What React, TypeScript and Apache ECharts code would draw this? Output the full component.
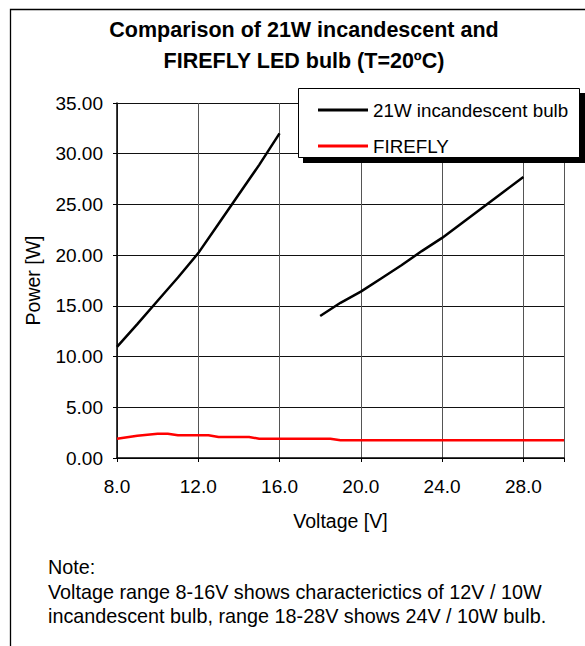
import React, { useEffect, useRef } from "react";
import * as echarts from "echarts";

const titleLines = ["Comparison of 21W incandescent and", "FIREFLY LED bulb (T=20ºC)"];
const noteLines = [
  "Note:",
  "Voltage range 8-16V shows characterictics of 12V / 10W",
  "incandescent bulb, range 18-28V shows 24V / 10W bulb.",
];
const seriesNames = ["21W incandescent bulb", "FIREFLY"];

// Voltage [V], Power [W]; null breaks the line between the two bulbs
const incVoltage = [8, 9, 10, 11, 12, 13, 14, 15, 16, 17, 18, 19, 20, 21, 22, 23, 24, 25, 26, 27, 28];
const incPower: (number | null)[] = [
  10.95, 13.2, 15.5, 17.8, 20.2, 23.1, 26.0, 28.9, 32.0, null, 14.0, 15.3, 16.4, 17.7, 19.0, 20.4, 21.7,
  23.2, 24.7, 26.2, 27.7,
];

const ledVoltage = [8, 9, 10, 10.5, 11, 12, 12.5, 13, 14, 14.5, 15, 16, 17, 18, 18.5, 19, 20, 22, 24, 26, 28, 30];
const ledPower = [
  1.9, 2.2, 2.38, 2.38, 2.24, 2.24, 2.24, 2.07, 2.07, 2.07, 1.9, 1.9, 1.9, 1.9, 1.9, 1.74, 1.74, 1.74, 1.74,
  1.74, 1.74, 1.74,
];

const FONT = "'Liberation Sans', Arial, Helvetica, sans-serif";

export default function App() {
  const ref = useRef<HTMLDivElement>(null);
  useEffect(() => {
    if (!ref.current) return;
    const chart = echarts.init(ref.current, undefined, { renderer: "svg" });
    const incData = incVoltage.map((v, i) => [v, incPower[i]]);
    const ledData = ledVoltage.map((v, i) => [v, ledPower[i]]);
    chart.setOption({
      animation: false,
      backgroundColor: "#ffffff",
      textStyle: { fontFamily: FONT },
      grid: { left: 117, top: 103, right: 21, bottom: 188, containLabel: false },
      xAxis: {
        type: "value",
        min: 8,
        max: 30,
        interval: 4,
        name: "Voltage [V]",
        nameLocation: "middle",
        nameGap: 53,
        nameTextStyle: { fontSize: 19.5, color: "#000", fontFamily: FONT },
        axisLine: { show: true, lineStyle: { color: "#000", width: 1.5 } },
        axisTick: { show: true, length: 4, lineStyle: { color: "#000" } },
        axisLabel: {
          fontSize: 19,
          color: "#000",
          margin: 19,
          fontFamily: FONT,
          formatter: (v: number) => (v === 30 ? "" : v.toFixed(1)),
        },
        splitLine: { show: true, lineStyle: { color: "#555", width: 1 } },
      },
      yAxis: {
        type: "value",
        min: 0,
        max: 35,
        interval: 5,
        name: "Power [W]",
        nameLocation: "middle",
        nameGap: 74,
        nameTextStyle: { fontSize: 19.5, color: "#000", fontFamily: FONT },
        axisLine: { show: true, lineStyle: { color: "#000", width: 1.5 } },
        axisTick: { show: true, length: 4, lineStyle: { color: "#000" } },
        axisLabel: {
          fontSize: 19,
          color: "#000",
          margin: 14,
          fontFamily: FONT,
          formatter: (v: number) => v.toFixed(2),
        },
        splitLine: { show: true, lineStyle: { color: "#111", width: 1 } },
      },
      legend: {
        orient: "vertical",
        left: 313,
        top: 95,
        z: 110,
        itemWidth: 50,
        itemHeight: 3,
        itemGap: 16,
        icon: "rect",
        textStyle: { fontSize: 18.8, color: "#000", fontFamily: FONT, lineHeight: 20 },
        data: seriesNames,
      },
      graphic: [
        {
          type: "rect",
          z: -10,
          silent: true,
          shape: { x: 10.5, y: 9.5, width: 700, height: 700 },
          style: { fill: "none", stroke: "#000", lineWidth: 1.3 },
        },
        ...titleLines.map((t, i) => ({
          type: "text",
          x: 304,
          y: 30 + i * 31,
          z: 50,
          style: {
            text: t,
            fill: "#000",
            font: `bold 21.5px ${FONT}`,
            textAlign: "center",
            textVerticalAlign: "middle",
          },
        })),
        {
          type: "rect",
          z: 100,
          silent: true,
          shape: { x: 303, y: 93, width: 282, height: 70 },
          style: { fill: "#000", stroke: "none" },
        },
        {
          type: "rect",
          z: 101,
          silent: true,
          shape: { x: 298.5, y: 88.5, width: 281, height: 69 },
          style: { fill: "#fff", stroke: "#000", lineWidth: 1 },
        },
        ...noteLines.map((t, i) => ({
          type: "text",
          x: 48,
          y: 567 + i * 24.5,
          z: 50,
          style: {
            text: t,
            fill: "#000",
            font: `19.8px ${FONT}`,
            textAlign: "left",
            textVerticalAlign: "middle",
          },
        })),
      ],
      series: [
        {
          name: seriesNames[0],
          type: "line",
          data: incData,
          showSymbol: false,
          symbol: "none",
          connectNulls: false,
          lineStyle: { color: "#000", width: 2.5 },
          itemStyle: { color: "#000" },
          z: 3,
        },
        {
          name: seriesNames[1],
          type: "line",
          data: ledData,
          showSymbol: false,
          symbol: "none",
          lineStyle: { color: "#ff0000", width: 2.5 },
          itemStyle: { color: "#ff0000" },
          z: 3,
        },
      ],
    });
    return () => chart.dispose();
  }, []);
  return (
    <div
      ref={ref}
      style={{ position: "absolute", left: 0, top: 0, width: 585, height: 646, background: "#fff" }}
    />
  );
}
